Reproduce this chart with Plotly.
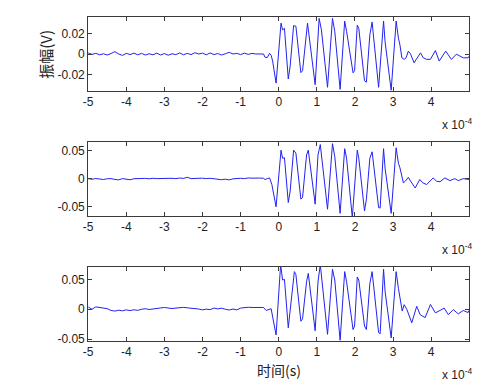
import plotly.graph_objects as go

# time in units of 1e-4 s
t_pre = [-5.0, -4.9, -4.8, -4.7, -4.6, -4.5, -4.4, -4.3, -4.2, -4.1,
         -4.0, -3.9, -3.8, -3.7, -3.6, -3.5, -3.4, -3.3, -3.2, -3.1,
         -3.0, -2.9, -2.8, -2.7, -2.6, -2.5, -2.4, -2.3, -2.2, -2.1,
         -2.0, -1.9, -1.8, -1.7, -1.6, -1.5, -1.4, -1.3, -1.2, -1.1,
         -1.0, -0.9, -0.8, -0.7, -0.6, -0.5, -0.4]

v1_pre = [0.0012, -0.0002, 0.0008, -0.0006, 0.0004, -0.0008, 0.0006, 0.0025, 0.0002, -0.0012,
          0.0008, -0.0004, 0.0010, -0.0006, 0.0008, -0.0008, 0.0004, -0.0006, 0.0010, -0.0008,
          0.0006, -0.0010, 0.0004, -0.0004, 0.0012, -0.0006, 0.0008, -0.0004, 0.0014, 0.0002,
          0.0010, -0.0006, 0.0012, -0.0004, 0.0006, -0.0008, 0.0004, 0.0018, 0.0002, 0.0008,
          -0.0004, 0.0010, -0.0002, 0.0008, 0.0002, 0.0004, 0.0002]
t1_burst = [-0.36, -0.30, -0.24, -0.20, -0.16, -0.07, 0.06, 0.10, 0.15, 0.25, 0.30, 0.39, 0.45,
            0.58, 0.625, 0.73, 0.755, 0.955, 1.06, 1.12, 1.28, 1.41, 1.47, 1.61, 1.73, 1.78,
            1.95, 1.99, 2.06, 2.10, 2.25, 2.30, 2.39, 2.45, 2.62, 2.75, 2.79, 2.95, 3.08, 3.14,
            3.18, 3.23, 3.29, 3.34, 3.40, 3.46, 3.55, 3.72, 3.79, 3.88, 3.98, 4.11, 4.21, 4.38,
            4.53, 4.66, 4.84, 4.97, 4.99]
v1_burst = [-0.0030, -0.0032, 0.0008, -0.0010, -0.0067, -0.0280, 0.0300, 0.0235, 0.0250, -0.0240,
            -0.0114, 0.0276, 0.0270, -0.0178, -0.0160, 0.0235, 0.0300, -0.0295, 0.0346, 0.0235,
            -0.0320, 0.0346, 0.0220, -0.0340, 0.0320, 0.0220, -0.0180, -0.0160, 0.0280, 0.0250,
            -0.0257, -0.0270, 0.0187, 0.0310, -0.0320, 0.0320, 0.0120, -0.0350, 0.0320, 0.0155,
            0.0089, -0.0035, -0.0050, -0.0035, 0.0029, 0.0000, -0.0083, 0.0013, -0.0035, -0.0050,
            -0.0050, 0.0035, -0.0067, 0.0030, -0.0050, 0.0000, -0.0035, -0.0035, -0.0020]

v2_pre = [0.0005, -0.0005, 0.0008, 0.0002, -0.0010, 0.0004, 0.0006, -0.0008, -0.0016, 0.0006,
          0.0002, -0.0014, 0.0004, 0.0008, 0.0000, 0.0010, 0.0004, 0.0012, 0.0006, 0.0010,
          0.0014, 0.0008, 0.0012, 0.0006, 0.0016, 0.0010, 0.0030, 0.0006, 0.0012, 0.0008,
          0.0014, 0.0006, 0.0012, 0.0004, -0.0008, -0.0014, -0.0004, -0.0016, 0.0002, 0.0010,
          0.0012, 0.0006, 0.0018, 0.0014, 0.0020, 0.0016, 0.0012]
t2_burst = [-0.36, -0.30, -0.24, -0.18, -0.07, 0.06, 0.10, 0.15, 0.25, 0.30, 0.39, 0.45, 0.58,
            0.625, 0.73, 0.775, 0.955, 1.03, 1.09, 1.28, 1.41, 1.47, 1.61, 1.73, 1.78, 1.93,
            2.06, 2.10, 2.25, 2.30, 2.39, 2.45, 2.62, 2.66, 2.75, 2.79, 2.95, 3.08, 3.14, 3.18,
            3.27, 3.32, 3.40, 3.46, 3.58, 3.70, 3.78, 3.88, 4.05, 4.14, 4.23, 4.36, 4.49, 4.62,
            4.71, 4.84, 4.99]
v2_burst = [-0.0010, 0.0006, 0.0018, -0.0100, -0.0497, 0.0514, 0.0368, 0.0380, -0.0420, -0.0216,
            0.0514, 0.0460, -0.0360, -0.0330, 0.0427, 0.0514, -0.0450, 0.0430, 0.0614, -0.0540,
            0.0630, 0.0400, -0.0614, 0.0540, 0.0370, -0.0690, 0.0514, 0.0370, -0.0570, -0.0360,
            0.0370, 0.0485, -0.0510, -0.0520, 0.0540, 0.0190, -0.0614, 0.0556, 0.0280, 0.0200,
            -0.0070, -0.0040, 0.0030, -0.0040, -0.0160, -0.0010, -0.0070, -0.0100, 0.0018, -0.0040,
            -0.0050, 0.0018, -0.0030, 0.0006, -0.0030, 0.0006, -0.0010]

v3_pre = [0.0040, 0.0000, 0.0040, 0.0030, 0.0032, 0.0010, -0.0020, -0.0030, -0.0016, -0.0026,
          -0.0010, -0.0022, -0.0008, -0.0018, 0.0000, 0.0010, -0.0004, 0.0008, 0.0014, 0.0022,
          0.0030, 0.0018, 0.0012, 0.0020, 0.0028, 0.0032, 0.0024, 0.0016, 0.0020, 0.0004,
          -0.0010, 0.0002, -0.0006, 0.0020, 0.0006, 0.0018, 0.0000, -0.0012, 0.0004, -0.0010,
          0.0020, 0.0030, 0.0034, 0.0030, 0.0034, 0.0032, 0.0030]
t3_burst = [-0.33, -0.26, -0.20, -0.07, 0.05, 0.10, 0.15, 0.25, 0.30, 0.41, 0.45, 0.58, 0.625,
            0.73, 0.775, 0.955, 1.03, 1.09, 1.28, 1.41, 1.47, 1.61, 1.73, 1.78, 1.95, 1.99,
            2.06, 2.10, 2.25, 2.30, 2.39, 2.45, 2.62, 2.66, 2.75, 2.79, 2.95, 3.08, 3.14, 3.20,
            3.24, 3.29, 3.36, 3.49, 3.62, 3.71, 3.84, 3.98, 4.11, 4.23, 4.34, 4.45, 4.58, 4.71,
            4.84, 4.97, 4.99]
v3_burst = [-0.0020, 0.0000, 0.0010, -0.0430, 0.0750, 0.0490, 0.0500, -0.0310, -0.0030, 0.0630,
            0.0580, -0.0200, -0.0160, 0.0460, 0.0600, -0.0360, 0.0460, 0.0750, -0.0420, 0.0670,
            0.0490, -0.0520, 0.0630, 0.0460, -0.0340, -0.0280, 0.0540, 0.0490, -0.0280, -0.0340,
            0.0430, 0.0630, -0.0390, -0.0410, 0.0670, 0.0300, -0.0480, 0.0630, 0.0350, 0.0130,
            -0.0030, 0.0077, 0.0000, -0.0226, 0.0050, -0.0090, -0.0140, 0.0080, -0.0060, -0.0020,
            0.0020, -0.0090, -0.0005, -0.0077, -0.0020, -0.0055, -0.0020]

x_ticks = [-5, -4, -3, -2, -1, 0, 1, 2, 3, 4]
x_ticktext = ["-5", "-4", "-3", "-2", "-1", "0", "1", "2", "3", "4"]
y1_ticks = [-0.02, 0, 0.02]
y1_ticktext = ["-0.02", "0", "0.02"]
y23_ticks = [-0.05, 0, 0.05]
y23_ticktext = ["-0.05", "0", "0.05"]

W, H = 501, 392
FONT = "Liberation Sans, Arial, sans-serif"
CJK = "Noto Sans CJK SC, sans-serif"
AXC = "#3a3a3a"

fig = go.Figure()
series = [(t_pre + t1_burst, v1_pre + v1_burst),
          (t_pre + t2_burst, v2_pre + v2_burst),
          (t_pre + t3_burst, v3_pre + v3_burst)]
for i, (tt, vv) in enumerate(series):
    sfx = "" if i == 0 else str(i + 1)
    fig.add_trace(go.Scatter(x=tt, y=vv, mode="lines",
                             line=dict(color="#2222ee", width=1),
                             xaxis="x" + sfx, yaxis="y" + sfx, showlegend=False))

# pixel boxes (top, bottom) for panels
boxes = [(17, 92), (144.3, 219.3), (271, 346)]
yranges = [[-0.0352, 0.0362], [-0.066, 0.0658], [-0.0526, 0.071]]
yt = [(y1_ticks, y1_ticktext), (y23_ticks, y23_ticktext), (y23_ticks, y23_ticktext)]
xl, xr = 84, 469

layout = dict(width=W, height=H, margin=dict(l=0, r=0, t=0, b=0),
              paper_bgcolor="white", plot_bgcolor="white",
              font=dict(family=FONT, size=12, color="#222"))
common = dict(showline=True, linecolor=AXC, linewidth=1, mirror="ticks",
              ticks="inside", ticklen=4, tickcolor=AXC, showgrid=False,
              zeroline=False, tickfont=dict(family=FONT, size=12, color="#222"))
for i in range(3):
    sfx = "" if i == 0 else str(i + 1)
    top, bot = boxes[i]
    layout["xaxis" + sfx] = dict(domain=[xl / W, xr / W], range=[-5, 5],
                                 anchor="y" + sfx, tickmode="array",
                                 tickvals=x_ticks, ticktext=x_ticktext, **common)
    layout["yaxis" + sfx] = dict(domain=[1 - bot / H, 1 - top / H], range=yranges[i],
                                 anchor="x" + sfx, tickmode="array",
                                 tickvals=yt[i][0], ticktext=yt[i][1], **common)

anns = []
for i in range(3):
    top, bot = boxes[i]
    anns.append(dict(text="x 10<sup>-4</sup>", x=439 / W, y=1 - (bot + 34) / H,
                     xref="paper", yref="paper", xanchor="left", yanchor="middle",
                     showarrow=False, font=dict(family=FONT, size=12, color="#222")))
anns.append(dict(text="振幅(V)", x=41 / W, y=1 - 55 / H, xref="paper", yref="paper",
                 xanchor="center", yanchor="middle", textangle=-90, showarrow=False,
                 font=dict(family=CJK, size=15, color="#222")))
anns.append(dict(text="时间(s)", x=276.5 / W, y=1 - 376 / H, xref="paper", yref="paper",
                 xanchor="center", yanchor="middle", showarrow=False,
                 font=dict(family=CJK, size=14, color="#222")))
layout["annotations"] = anns

fig.update_layout(**layout)
fig.write_html("out.html", config={"displayModeBar": False},
               post_script="document.body.style.margin='0';")
